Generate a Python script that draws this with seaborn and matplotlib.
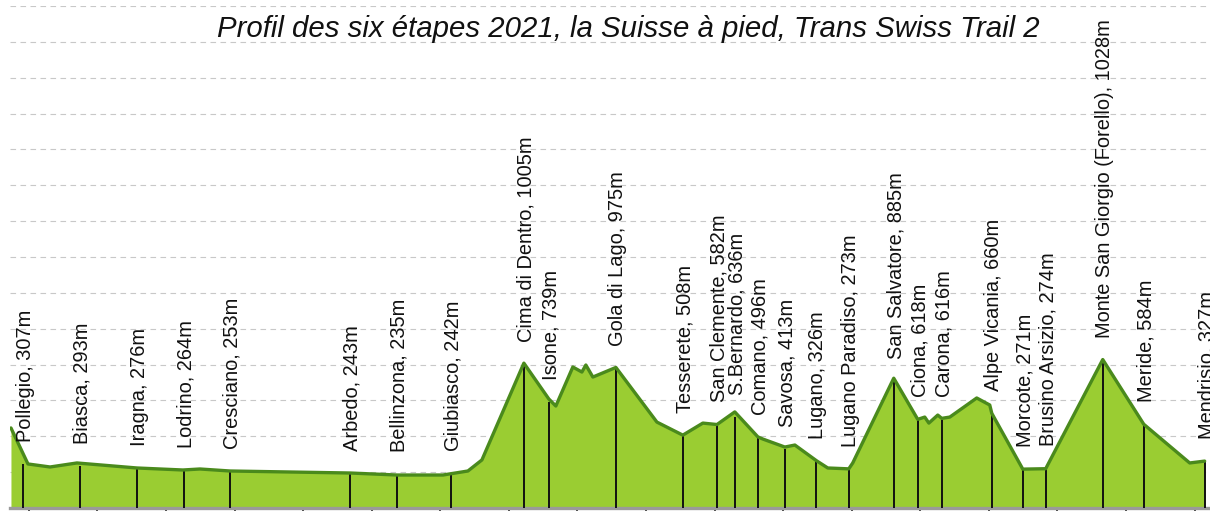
import matplotlib
matplotlib.use("Agg")
import matplotlib.pyplot as plt
import seaborn as sns
import numpy as np
import pandas as pd

# profil du trajet (km, altitude en m)
profil_km = [0.07, 1.31, 2.92, 4.88, 9.26, 12.61, 13.85, 16.04, 24.79, 28.21, 31.57,
             33.39, 34.41, 37.47, 39.29, 39.80, 41.04, 41.70, 41.99, 42.50, 44.18,
             47.17, 49.06, 50.52, 51.55, 52.85, 54.53, 54.89, 56.50, 57.23, 58.80,
             59.63, 61.16, 61.45, 64.44, 66.19, 66.70, 67.00, 67.65, 67.94, 68.53,
             70.49, 71.44, 71.59, 73.85, 75.52, 79.68, 82.67, 86.02, 87.11]
profil_alt = [558, 307, 286, 314, 279, 265, 272, 258, 244, 230, 230,
              258, 335, 1010, 760, 711, 983, 948, 997, 913, 980,
              599, 508, 592, 582, 670, 496, 481, 425, 439, 330,
              279, 273, 314, 905, 618, 634, 592, 648, 625, 634,
              767, 718, 660, 271, 274, 1035, 584, 314, 327]

# localités
lieux = ["Pollegio", "Biasca", "Iragna", "Lodrino", "Cresciano", "Arbedo",
         "Bellinzona", "Giubiasco", "Cima di Dentro", "Isone", "Gola di Lago",
         "Tesserete", "San Clemente", "S.Bernardo", "Comano", "Savosa", "Lugano",
         "Lugano Paradiso", "San Salvatore", "Ciona", "Carona", "Alpe Vicania",
         "Morcote", "Brusino Arsizio", "Monte San Giorgio (Forello)", "Meride",
         "Mendrisio"]
lieux_km = [0.95, 5.10, 9.26, 12.68, 16.04, 24.79, 28.21, 32.15, 37.47, 39.29,
            44.18, 49.06, 51.55, 52.85, 54.53, 56.50, 58.76, 61.16, 64.44, 66.19,
            67.94, 71.59, 73.85, 75.52, 79.68, 82.67, 87.11]
lieux_alt = [307, 293, 276, 264, 253, 243, 235, 242, 1005, 739, 975, 508, 582,
             636, 496, 413, 326, 273, 885, 618, 616, 660, 271, 274, 1028, 584, 327]

df = pd.DataFrame({"km": profil_km, "alt": profil_alt})

sns.set_style("white")
plt.rcParams['font.family'] = ['Liberation Sans', 'DejaVu Sans']

fig = plt.figure(figsize=(12.1, 5.11), dpi=100)
ax = fig.add_axes([10/1210, 3/511, 1200/1210, 502/511])

ax.fill_between(df["km"], 0, df["alt"], color="#9acd32", zorder=2, linewidth=0)
ax.vlines(lieux_km, 0, lieux_alt, color="#111111", linewidth=1.4, zorder=3)
sns.lineplot(data=df, x="km", y="alt", color="#4a8a1c", linewidth=2.4, ax=ax,
             zorder=4, sort=False)

for nom, km, alt in zip(lieux, lieux_km, lieux_alt):
    ax.annotate(f"{nom}, {alt}m", (km, alt), xytext=(1.5, 16), textcoords="offset points",
                rotation=90, ha="center", va="bottom", fontsize=14.4, color="#111111",
                annotation_clip=False, zorder=5)

ax.set_xlim(0, 87.5)
ax.set_ylim(0, 3500)
ax.set_yticks(np.arange(0, 3501, 250))
ax.set_xticks(np.arange(18) * 5 + 1.38)
ax.set_axisbelow(True)
ax.yaxis.grid(True, color="#c8c8c8", linestyle=(0, (5, 4)), linewidth=0.8)
ax.xaxis.grid(False)
ax.tick_params(axis="y", left=False, labelleft=False)
ax.tick_params(axis="x", bottom=True, direction="out", length=8, width=1.4,
               color="#444444", labelbottom=False)
for s in ["top", "left", "right"]:
    ax.spines[s].set_visible(False)
ax.spines["bottom"].set_color("#9a9a9a")
ax.spines["bottom"].set_linewidth(2.4)
ax.set_xlabel("")
ax.set_ylabel("")

fig.text(628/1210, 1 - 29/511, "Profil des six étapes 2021, la Suisse à pied, Trans Swiss Trail 2",
         ha="center", va="center", fontsize=21.2, style="italic", color="#111111")

fig.savefig("out.png", dpi=100)
